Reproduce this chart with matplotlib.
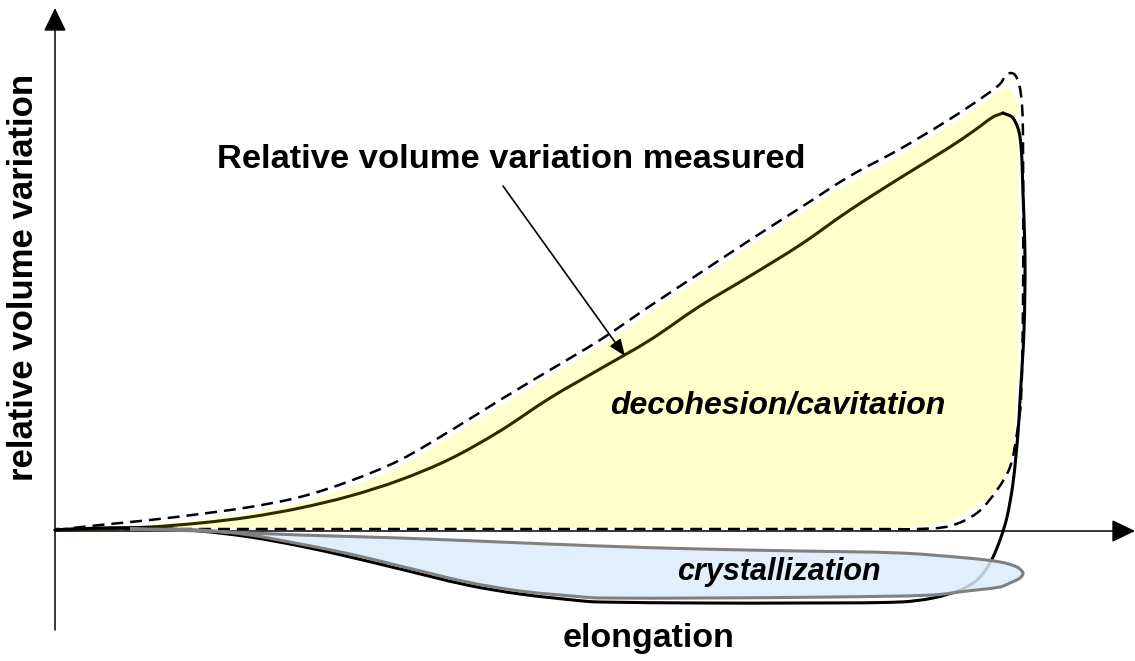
import matplotlib
matplotlib.use("Agg")
import matplotlib.pyplot as plt
import numpy as np
from matplotlib.path import Path
from matplotlib.patches import PathPatch

plt.rcParams['font.family'] = ['Liberation Sans', 'DejaVu Sans']
plt.rcParams['lines.scale_dashes'] = False

# ---- data (schematic in pixel units) ----
# dashed envelope of the decohesion/cavitation zone
dash_x = [55, 100, 150, 200, 250, 300, 350, 400, 450, 500, 550, 600, 650, 700, 750, 800,
          850, 900, 950, 983, 1000, 1007, 1014, 1019, 1022, 1023, 1023, 1021, 1017, 1010,
          997, 977, 950, 917, 880, 55]
dash_y = [530, 525, 520, 514, 507, 497, 481, 460, 431, 400, 370, 340, 306, 273, 240, 208,
          176, 149, 119, 97, 84, 74, 74, 84, 105, 140, 300, 400, 433, 467,
          490, 513, 526, 529, 529, 529]

# yellow filled decohesion zone
yel_x = [110, 150, 200, 250, 300, 350, 400, 450, 500, 550, 600, 650, 700, 750, 800,
         850, 900, 950, 983, 998, 1007, 1013, 1017, 1018, 1016, 1012, 1004, 990, 970,
         943, 900, 110]
yel_y = [527, 525, 520, 513, 503, 487, 466, 437, 406, 376, 346, 312, 279, 246, 214,
         182, 155, 125, 103, 92, 88, 92, 105, 300, 400, 450, 476, 494, 510,
         522, 527, 527]

# blue filled crystallization zone (closed)
blue_x = [130, 200, 300, 400, 500, 600, 700, 800, 900, 967, 1000, 1017, 1023, 1020, 1010,
          1000, 967, 933, 833, 700, 600, 583, 520, 467, 400, 350, 300, 250, 200]
blue_y = [529, 531, 535, 538, 542, 546, 549, 551, 553, 558, 562, 567, 573, 578, 583,
          587, 591, 595, 597, 598, 598, 597, 591, 582, 566, 554, 544, 535, 530]

# measured relative volume variation: loading branch (origin -> peak)
load_x = [55, 100, 150, 200, 250, 300, 350, 400, 450, 500, 550, 600, 650, 700, 750, 800,
          850, 900, 950, 975, 993, 1003]
load_y = [530, 529, 527, 523, 517, 508, 496, 480, 459, 431, 398, 369, 340, 306, 276, 245,
          210, 178, 147, 130, 117, 113]
# unloading branch (peak -> back to origin, below the axis)
unload_x = [1003, 1013, 1020, 1023, 1025, 1024, 1020, 1018, 1013, 1007, 1000, 990, 977, 960,
            933, 900, 800, 700, 600, 583, 520, 467, 400, 350, 300, 250, 200, 150, 100, 55]
unload_y = [113, 118, 137, 193, 260, 330, 400, 433, 483, 517, 540, 563, 580, 590,
            598, 602, 603, 603, 602, 601, 594, 585, 569, 557, 546, 537, 531, 528, 528, 530]

# axes geometry
ORIGIN_X, ORIGIN_Y = 55, 531
X_END, Y_TOP, Y_BOTTOM = 1135, 8, 630


def smooth_path(xs, ys, closed=False):
    """Smooth Bezier path passing through the given points."""
    P = np.column_stack([xs, ys]).astype(float)
    n = len(P)
    if closed:
        prev = np.roll(P, 1, axis=0)
        nxt = np.roll(P, -1, axis=0)
    else:
        prev = np.vstack([P[:1], P[:-1]])
        nxt = np.vstack([P[1:], P[-1:]])
    dp = np.linalg.norm(P - prev, axis=1)
    dn = np.linalg.norm(nxt - P, axis=1)
    T = (nxt - prev) / np.maximum(dp + dn, 1e-9)[:, None]
    verts = [P[0]]
    codes = [Path.MOVETO]
    segs = range(n) if closed else range(n - 1)
    for i in segs:
        j = (i + 1) % n
        d = np.linalg.norm(P[j] - P[i])
        verts += [P[i] + T[i] * d / 3, P[j] - T[j] * d / 3, P[j]]
        codes += [Path.CURVE4] * 3
    if closed:
        verts.append(P[0])
        codes.append(Path.CLOSEPOLY)
    return Path(verts, codes)


fig = plt.figure(figsize=(11.35, 6.61), dpi=100)
ax = fig.add_axes([0, 0, 1, 1])
ax.set_xlim(0, 1135)
ax.set_ylim(661, 0)
ax.axis('off')

# yellow decohesion zone
ax.add_patch(PathPatch(smooth_path(yel_x, yel_y, closed=True), facecolor='#FFFFCC',
                       edgecolor='none', zorder=1))

# axes with arrows
arrow_style = '-|>,head_length=1.45,head_width=0.7'
ax.annotate('', xy=(X_END, ORIGIN_Y), xytext=(ORIGIN_X, ORIGIN_Y),
            arrowprops=dict(arrowstyle=arrow_style, color='black', lw=1.1,
                            shrinkA=0, shrinkB=0), zorder=2)
ax.annotate('', xy=(ORIGIN_X, Y_TOP), xytext=(ORIGIN_X, Y_BOTTOM),
            arrowprops=dict(arrowstyle=arrow_style, color='black', lw=1.1,
                            shrinkA=0, shrinkB=0), zorder=2)

# dashed envelope
ax.add_patch(PathPatch(smooth_path(dash_x, dash_y), fill=False, edgecolor='black',
                       lw=1.8, linestyle=(0, (8.6, 5.0)), zorder=3))

# measured curve
ax.add_patch(PathPatch(smooth_path(load_x, load_y), fill=False, edgecolor='#2b2b00',
                       lw=2.2, capstyle='round', zorder=4))
ax.add_patch(PathPatch(smooth_path(unload_x, unload_y), fill=False, edgecolor='black',
                       lw=2.2, capstyle='round', zorder=4))

# crystallization zone on top
blue_path = smooth_path(blue_x, blue_y, closed=True)
ax.add_patch(PathPatch(blue_path, facecolor='#DCEBFB', alpha=0.85, edgecolor='none', zorder=5))
ax.add_patch(PathPatch(blue_path, facecolor='none', edgecolor='#808080', lw=2.2, zorder=6))

# annotation arrow
ax.annotate('', xy=(625, 356), xytext=(503, 186),
            arrowprops=dict(arrowstyle='-|>,head_length=1.0,head_width=0.4',
                            color='black', lw=1.2, shrinkA=0, shrinkB=0), zorder=7)

# texts
ax.text(217, 168, 'Relative volume variation measured', fontsize=24.8,
        fontweight='bold', ha='left', va='baseline', zorder=8)
ax.text(610, 413, 'decohesion/cavitation', fontsize=23, fontweight='bold',
        fontstyle='italic', ha='left', va='baseline', zorder=8)
ax.text(677, 580, 'crystallization', fontsize=22, fontweight='bold',
        fontstyle='italic', ha='left', va='baseline', zorder=8)
ax.text(563, 647, 'elongation', fontsize=24.5, fontweight='bold',
        ha='left', va='baseline', zorder=8)
ax.text(24, 277, 'relative volume variation', fontsize=25, fontweight='bold',
        rotation=90, ha='center', va='center', zorder=8)

fig.savefig('out.png', dpi=100)
